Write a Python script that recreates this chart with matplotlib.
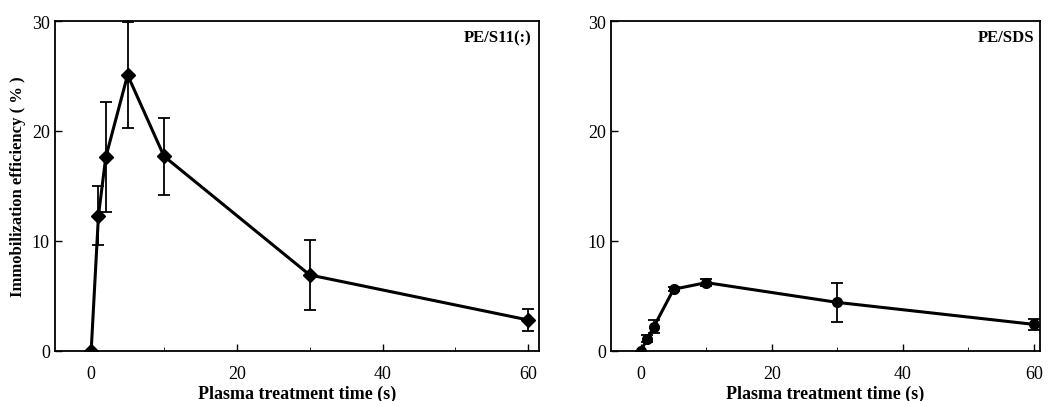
import matplotlib
matplotlib.use('Agg')
import matplotlib.pyplot as plt

plt.rcParams['font.family'] = 'Liberation Serif'

time_s = [0, 1, 2, 5, 10, 30, 60]

# PE/S11(:) panel
s11_eff = [0, 12.3, 17.6, 25.1, 17.7, 6.9, 2.8]
s11_err = [0, 2.7, 5.0, 4.8, 3.5, 3.2, 1.0]

# PE/SDS panel
sds_eff = [0, 1.1, 2.2, 5.6, 6.2, 4.4, 2.4]
sds_err = [0, 0.3, 0.6, 0.2, 0.3, 1.8, 0.5]

fig = plt.figure(figsize=(10.53, 4.02), dpi=100)
ax1 = fig.add_axes([0.052, 0.125, 0.46, 0.82])
ax2 = fig.add_axes([0.58, 0.125, 0.408, 0.82])

panels = [(ax1, s11_eff, s11_err, 'D', 'PE/S11(:)'),
          (ax2, sds_eff, sds_err, 'o', 'PE/SDS')]

for ax, eff, err, mk, name in panels:
    ax.errorbar(time_s, eff, yerr=err, color='black', marker=mk, markersize=7,
                linewidth=2.2, elinewidth=1.3, capsize=4, capthick=1.3)
    ax.set_xlim(-5, 61.5)
    ax.set_ylim(0, 30)
    ax.set_xticks([0, 20, 40, 60])
    ax.set_yticks([0, 10, 20, 30])
    ax.set_xticks(range(0, 61, 10), minor=True)
    ax.tick_params(direction='in', labelsize=13, length=5, width=1)
    ax.tick_params(which='minor', direction='in', length=3)
    ax.tick_params(axis='x', pad=10)
    for sp in ax.spines.values():
        sp.set_linewidth(1.3)
    ax.text(0.985, 0.975, name, transform=ax.transAxes, ha='right', va='top',
            fontsize=12, fontweight='bold')
    ax.set_xlabel('Plasma treatment time (s)', fontsize=13, fontweight='bold', labelpad=2)

ax2.set_xlim(-4.6, 61)
ax1.set_ylabel('Immobilization efficiency ( % )', fontsize=12, fontweight='bold')

fig.savefig('out.png', dpi=100)
